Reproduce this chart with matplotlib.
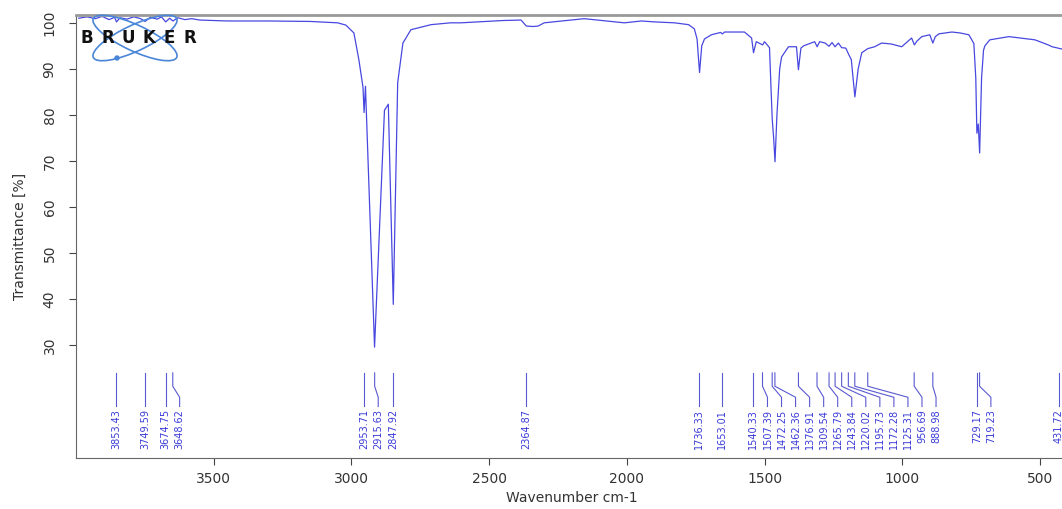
import matplotlib
matplotlib.use('Agg')
import matplotlib.pyplot as plt
from matplotlib.patches import Ellipse, Circle

# spectrum (wavenumber cm-1, transmittance %)
wavenumber = [3990, 3960, 3930, 3905, 3880, 3860, 3853, 3840, 3815, 3790, 3765, 3749,
              3730, 3705, 3690, 3674, 3660, 3648, 3630, 3605, 3580, 3550, 3450, 3300,
              3150, 3050, 3020, 2991, 2973, 2958, 2954, 2949, 2916, 2880, 2866, 2848,
              2832, 2813, 2784, 2711, 2640, 2602, 2450, 2384, 2365, 2340, 2322, 2300,
              2155, 2009, 1947, 1900, 1827, 1776, 1755, 1745, 1736, 1728, 1718, 1693,
              1660, 1653, 1645, 1573, 1547, 1540, 1530, 1507, 1500, 1482, 1476, 1472,
              1467, 1462, 1455, 1445, 1438, 1413, 1384, 1377, 1368, 1358, 1318, 1309,
              1300, 1280, 1266, 1255, 1244, 1232, 1220, 1205, 1195, 1185, 1172, 1160,
              1147, 1125, 1100, 1075, 1040, 1002, 966, 956, 947, 929, 900, 889, 880,
              867, 820, 790, 758, 740, 733, 729, 724, 719, 712, 705, 700, 682, 613,
              518, 470, 456, 420]
transmittance = [101.0, 101.3, 100.9, 101.4, 100.7, 101.2, 100.2, 101.1, 100.8, 101.3, 100.9, 100.3,
                 101.2, 100.8, 101.3, 100.2, 101.0, 100.4, 101.1, 100.7, 100.9, 100.6, 100.4, 100.4,
                 100.3, 100.0, 99.5, 97.8, 92.0, 86.0, 80.5, 86.2, 29.5, 81.0, 82.3, 38.8,
                 87.0, 95.6, 98.5, 99.6, 100.0, 100.0, 100.5, 100.6, 99.3, 99.2, 99.3, 100.0,
                 100.9, 100.0, 100.4, 100.2, 100.0, 99.6, 98.7, 96.5, 89.2, 95.0, 96.5, 97.4,
                 97.9, 97.6, 98.0, 98.0, 96.7, 93.5, 95.9, 95.2, 95.9, 94.6, 85.0, 79.0,
                 75.0, 69.8, 80.0, 90.0, 92.6, 94.8, 94.8, 89.8, 94.5, 95.0, 95.9, 94.8,
                 95.9, 95.6, 94.9, 95.7, 94.8, 95.6, 94.6, 94.5, 93.2, 92.0, 83.9, 90.0,
                 93.5, 94.4, 94.8, 95.6, 95.4, 94.8, 96.7, 95.2, 96.0, 97.0, 97.4, 95.6, 97.0,
                 97.6, 98.0, 97.8, 97.4, 95.5, 88.0, 76.0, 78.0, 71.7, 88.0, 94.0, 95.0, 96.3, 97.0,
                 96.3, 95.2, 94.8, 94.3]

peaks = [3853.43, 3749.59, 3674.75, 3648.62, 2953.71, 2915.63, 2847.92, 2364.87,
         1736.33, 1653.01, 1540.33, 1507.39, 1472.25, 1462.36, 1376.91, 1309.54,
         1265.79, 1243.84, 1220.02, 1195.73, 1172.28, 1125.31, 956.69, 888.98,
         729.17, 719.23, 431.72]

x_ticks = [3500, 3000, 2500, 2000, 1500, 1000, 500]
y_ticks = [30, 40, 50, 60, 70, 80, 90, 100]

W, H = 1062, 509
fig = plt.figure(figsize=(W / 100, H / 100), dpi=100)
ax = fig.add_axes([76 / W, 1 - 458 / H, 991.5 / W, 443 / H])

ax.plot(wavenumber, transmittance, color='#4848e0', lw=0.9)
ax.set_xlim(4000, 400)
ax.set_ylim(5.4, 101.7)

# peak labels, spread so they do not overlap
gap = 51
text_x = []
for p in peaks:
    if text_x and text_x[-1] - gap < p:
        text_x.append(text_x[-1] - gap)
    else:
        text_x.append(p)
for p, tx in zip(peaks, text_x):
    ax.plot([p, p, tx, tx], [23.9, 21.0, 18.6, 16.6], color='#5a5ad0', lw=0.8)
    ax.text(tx, 16.0, f"{p:.2f}", rotation=90, ha='center', va='top',
            fontsize=7, color='#3a3ad8')

ax.set_xticks(x_ticks)
ax.set_yticks(y_ticks)
ax.tick_params(axis='both', colors='#444444', labelcolor='#333333', labelsize=10, length=5)
plt.setp(ax.get_yticklabels(), rotation=90, va='center')
ax.tick_params(axis='y', pad=9)
ax.tick_params(axis='x', pad=5)
ax.set_xlabel('Wavenumber cm-1', fontsize=10, color='#333333', labelpad=4)
ax.set_ylabel('Transmittance [%]', fontsize=10, color='#333333', labelpad=11)
for s in ['left', 'bottom']:
    ax.spines[s].set_color('#666666')
ax.spines['top'].set_color('#999999')
ax.spines['top'].set_linewidth(2)
ax.spines['right'].set_visible(False)

# Bruker logo
lx, ly, lw_, lh = 78, 12, 120, 52
lg = fig.add_axes([lx / W, 1 - (ly + lh) / H, lw_ / W, lh / H])
lg.set_xlim(0, lw_)
lg.set_ylim(lh, 0)
lg.axis('off')
lg.patch.set_alpha(0)
for ang in (25, -25):
    lg.add_patch(Ellipse((57, 26), 92, 26, angle=ang, fill=False, ec='#4a86d8', lw=1.2))
lg.add_patch(Circle((39, 46), 2, color='#4a86d8'))
for i, ch in enumerate("BRUKER"):
    lg.text(9 + i * 20.5, 26, ch, fontsize=12, fontweight='heavy', ha='center', va='center',
            color='#111111')

fig.savefig('out.png', dpi=100)
